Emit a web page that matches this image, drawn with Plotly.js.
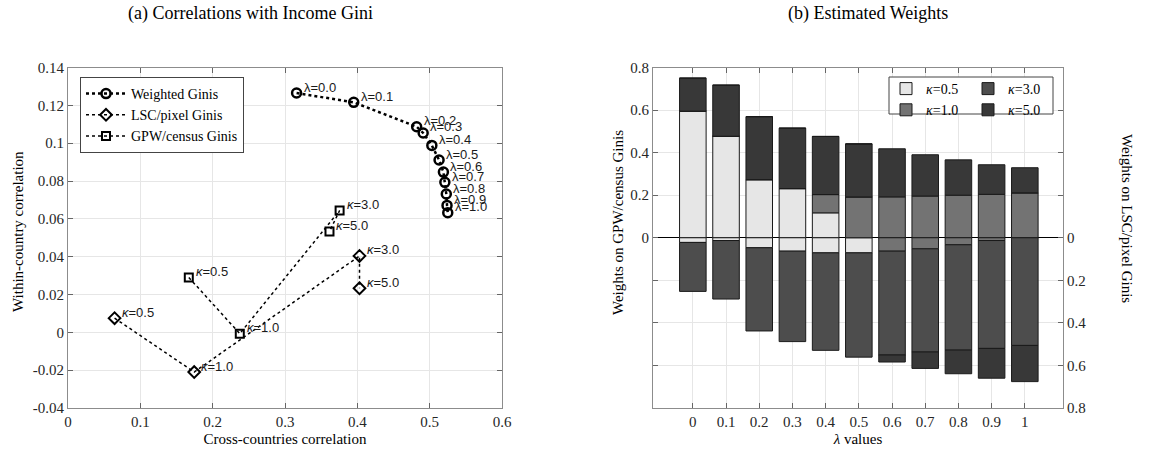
<!DOCTYPE html>
<html>
<head>
<meta charset="utf-8">
<script src="https://cdn.plot.ly/plotly-3.0.1.min.js"></script>
<style>html,body{margin:0;padding:0;background:#fff;}#chart{width:1149px;height:457px;}</style>
</head>
<body>
<div id="chart"></div>
<script>
// ---------- Panel (a) data ----------
const lambdaLabels = ['λ=0.0','λ=0.1','λ=0.2','λ=0.3','λ=0.4','λ=0.5','λ=0.6','λ=0.7','λ=0.8','λ=0.9','λ=1.0'];
const weightedX = [0.316, 0.395, 0.482, 0.491, 0.503, 0.513, 0.519, 0.521, 0.523, 0.524, 0.525];
const weightedY = [0.1265, 0.1216, 0.1087, 0.1054, 0.0988, 0.0911, 0.0847, 0.0793, 0.0731, 0.0671, 0.0632];
const kappaLabels = ['<i>κ</i>=0.5','<i>κ</i>=1.0','<i>κ</i>=3.0','<i>κ</i>=5.0'];
const lscX = [0.0644, 0.1745, 0.403, 0.403];
const lscY = [0.0075, -0.021, 0.0404, 0.0233];
const gpwX = [0.167, 0.2375, 0.3755, 0.3615];
const gpwY = [0.029, -0.0007, 0.0644, 0.0533];
const aXTicks = [0, 0.1, 0.2, 0.3, 0.4, 0.5, 0.6];
const aXTickText = ['0','0.1','0.2','0.3','0.4','0.5','0.6'];
const aYTicks = [-0.04,-0.02,0,0.02,0.04,0.06,0.08,0.1,0.12,0.14];
const aYTickText = ['-0.04','-0.02','0','0.02','0.04','0.06','0.08','0.1','0.12','0.14'];

// ---------- Panel (b) data ----------
const lambdaValues = [0, 0.1, 0.2, 0.3, 0.4, 0.5, 0.6, 0.7, 0.8, 0.9, 1.0];
const lambdaTickText = ['0','0.1','0.2','0.3','0.4','0.5','0.6','0.7','0.8','0.9','1'];
// weights on GPW/census Ginis (upper half)
const gpwK05 = [0.595, 0.477, 0.273, 0.231, 0.117, 0, 0, 0, 0, 0, 0];
const gpwK10 = [0, 0, 0, 0, 0.086, 0.192, 0.192, 0.196, 0.200, 0.204, 0.211];
const gpwK50 = [0.155, 0.240, 0.296, 0.284, 0.273, 0.249, 0.226, 0.194, 0.166, 0.139, 0.118];
// weights on LSC/pixel Ginis (lower half)
const lscK05 = [0.022, 0.013, 0.047, 0.063, 0.071, 0.071, 0, 0, 0, 0, 0];
const lscK10 = [0, 0, 0, 0, 0, 0, 0.063, 0.052, 0.033, 0.013, 0];
const lscK30 = [0.230, 0.275, 0.391, 0.425, 0.458, 0.490, 0.488, 0.485, 0.495, 0.507, 0.506];
const lscK50 = [0, 0, 0, 0, 0, 0, 0.033, 0.077, 0.111, 0.140, 0.170];
const bYTicks = [-0.8,-0.6,-0.4,-0.2,0,0.2,0.4,0.6,0.8];
const bLeftTickText = ['','','','','0','0.2','0.4','0.6','0.8'];
const bRightTickText = ['0.8','0.6','0.4','0.2','0','','','',''];

const serif = "'Liberation Serif', 'Times New Roman', serif";
const sans = "'Liberation Sans', Arial, sans-serif";
const axisCol = '#262626';
const gridCol = '#e6e6e6';

const colK05 = '#e6e6e6', colK10 = '#737373', colK30 = '#4d4d4d', colK50 = '#383838';
const neg = a => a.map(v => -v);

const traces = [
  {x: weightedX, y: weightedY, mode: 'lines+markers', name: 'Weighted Ginis', legend: 'legend',
   line: {color: '#000', width: 2.5, dash: 'dot'},
   marker: {symbol: 'circle-open', size: 9, color: '#000', line: {width: 2.5, color: '#000'}},
   xaxis: 'x', yaxis: 'y', cliponaxis: false},
  {x: lscX, y: lscY, mode: 'lines+markers', name: 'LSC/pixel Ginis', legend: 'legend',
   line: {color: '#000', width: 1.5, dash: 'dot'},
   marker: {symbol: 'diamond-open', size: 9, color: '#000', line: {width: 2, color: '#000'}},
   xaxis: 'x', yaxis: 'y', cliponaxis: false},
  {x: gpwX, y: gpwY, mode: 'lines+markers', name: 'GPW/census Ginis', legend: 'legend',
   line: {color: '#000', width: 1.5, dash: 'dot'},
   marker: {symbol: 'square-open', size: 8, color: '#000', line: {width: 2, color: '#000'}},
   xaxis: 'x', yaxis: 'y', cliponaxis: false}
];

function bar(vals, col, name, show, leg) {
  return {type: 'bar', x: lambdaValues, y: vals, name: name, showlegend: show, legend: leg,
          legendgroup: name,
          marker: {color: col, line: {color: '#1a1a1a', width: 1}},
          xaxis: 'x2', yaxis: 'y2', hoverinfo: 'skip'};
}
traces.push(bar(gpwK05, colK05, '<i>κ</i>=0.5', true, 'legend2'));
traces.push(bar(neg(lscK05), colK05, '<i>κ</i>=0.5', false, 'legend2'));
traces.push(bar(gpwK10, colK10, '<i>κ</i>=1.0', true, 'legend2'));
traces.push(bar(neg(lscK10), colK10, '<i>κ</i>=1.0', false, 'legend2'));
traces.push(bar(neg(lscK30), colK30, '<i>κ</i>=3.0', true, 'legend3'));
traces.push(bar(gpwK50, colK50, '<i>κ</i>=5.0', true, 'legend3'));
traces.push(bar(neg(lscK50), colK50, '<i>κ</i>=5.0', false, 'legend3'));
// helper trace for right axis
traces.push({x: [0], y: [0], xaxis: 'x2', yaxis: 'y3', mode: 'markers', marker: {opacity: 0}, showlegend: false, hoverinfo: 'skip'});

const annotations = [];
const lblFont = {family: sans, size: 13, color: '#1a1a1a'};
lambdaLabels.forEach((t, i) => annotations.push({x: weightedX[i], y: weightedY[i], xref: 'x', yref: 'y', text: t,
  showarrow: false, xanchor: 'left', yanchor: 'middle', xshift: 5, yshift: 6, font: lblFont}));
kappaLabels.forEach((t, i) => annotations.push({x: lscX[i], y: lscY[i], xref: 'x', yref: 'y', text: t,
  showarrow: false, xanchor: 'left', yanchor: 'middle', xshift: 5, yshift: 6, font: lblFont}));
kappaLabels.forEach((t, i) => annotations.push({x: gpwX[i], y: gpwY[i], xref: 'x', yref: 'y', text: t,
  showarrow: false, xanchor: 'left', yanchor: 'middle', xshift: 5, yshift: 6, font: lblFont}));
const P = (px, py) => ({x: px/1149, y: (457-py)/457});
annotations.push(Object.assign({text: '(a) Correlations with Income Gini', xref: 'paper', yref: 'paper',
  showarrow: false, xanchor: 'center', yanchor: 'middle', font: {family: serif, size: 18, color: '#000'}}, P(250, 14)));
annotations.push(Object.assign({text: '(b) Estimated Weights', xref: 'paper', yref: 'paper',
  showarrow: false, xanchor: 'center', yanchor: 'middle', font: {family: serif, size: 18, color: '#000'}}, P(868, 14)));
annotations.push(Object.assign({text: 'Within-country correlation', xref: 'paper', yref: 'paper',
  showarrow: false, textangle: -90, xanchor: 'center', yanchor: 'middle', font: {family: serif, size: 15, color: '#000'}}, P(18, 232)));
annotations.push(Object.assign({text: 'Weights on GPW/census Ginis', xref: 'paper', yref: 'paper',
  showarrow: false, textangle: -90, xanchor: 'center', yanchor: 'middle', font: {family: serif, size: 15, color: '#000'}}, P(618, 223)));
annotations.push(Object.assign({text: 'Weights on LSC/pixel Ginis', xref: 'paper', yref: 'paper',
  showarrow: false, textangle: 90, xanchor: 'center', yanchor: 'middle', font: {family: serif, size: 15, color: '#000'}}, P(1127, 218)));

const shapes = [
  {type: 'rect', xref: 'paper', yref: 'paper', x0: 889/1149, x1: 1053/1149, y0: (457-114)/457, y1: (457-77)/457,
   fillcolor: '#fff', line: {color: '#444', width: 1}, layer: 'above'}
];

const yDom = [(457-408)/457, (457-67.5)/457];
const tickCommon = {ticks: 'inside', ticklen: 5, tickcolor: '#666', showline: true, linecolor: '#8c8c8c', linewidth: 1};
const layout = {
  width: 1149, height: 457, margin: {l: 0, r: 0, t: 0, b: 0},
  paper_bgcolor: '#fff', plot_bgcolor: '#fff',
  barmode: 'relative', bargap: 0.2,
  showlegend: true,
  font: {family: serif, color: axisCol},
  xaxis: Object.assign({domain: [68/1149, 502/1149], range: [0, 0.6], tickvals: aXTicks, ticktext: aXTickText,
    showgrid: true, gridcolor: gridCol, zeroline: false, mirror: 'ticks',
    tickfont: {family: serif, size: 15, color: axisCol},
    title: {text: 'Cross-countries correlation', font: {family: serif, size: 15, color: '#000'}, standoff: 4}, anchor: 'y'}, tickCommon),
  yaxis: Object.assign({domain: yDom, range: [-0.04, 0.14], tickvals: aYTicks, ticktext: aYTickText,
    showgrid: true, gridcolor: gridCol, zeroline: false, mirror: 'ticks',
    tickfont: {family: serif, size: 15, color: axisCol}, anchor: 'x'}, tickCommon),
  xaxis2: Object.assign({domain: [653/1149, 1063/1149], range: [-0.12, 1.115], tickvals: lambdaValues, ticktext: lambdaTickText,
    showgrid: true, gridcolor: gridCol, zeroline: false, mirror: 'ticks',
    tickfont: {family: serif, size: 15, color: axisCol},
    title: {text: '<i>λ</i> values', font: {family: serif, size: 15, color: '#000'}, standoff: 4}, anchor: 'y2'}, tickCommon),
  yaxis2: Object.assign({domain: yDom, range: [-0.8, 0.8], tickvals: bYTicks, ticktext: bLeftTickText,
    showgrid: true, gridcolor: gridCol, zeroline: true, zerolinecolor: '#000', zerolinewidth: 1, mirror: false,
    tickfont: {family: serif, size: 15, color: axisCol}, anchor: 'x2'}, tickCommon),
  yaxis3: Object.assign({domain: yDom, range: [-0.8, 0.8], tickvals: bYTicks, ticktext: bRightTickText, overlaying: 'y2', side: 'right',
    showgrid: false, zeroline: false,
    tickfont: {family: serif, size: 15, color: axisCol}, anchor: 'x2'}, tickCommon),
  legend: {x: 80/1149, y: (457-77)/457, xanchor: 'left', yanchor: 'top', bgcolor: '#fff', bordercolor: '#444', borderwidth: 1,
    font: {family: serif, size: 14, color: '#000'}, tracegroupgap: 0, itemwidth: 40},
  legend2: {x: 886/1149, y: (457-73)/457, xanchor: 'left', yanchor: 'top', bgcolor: 'rgba(0,0,0,0)', borderwidth: 0,
    font: {family: serif, size: 14, color: '#000'}, itemwidth: 30, tracegroupgap: 0, traceorder: 'normal'},
  legend3: {x: 968/1149, y: (457-73)/457, xanchor: 'left', yanchor: 'top', bgcolor: 'rgba(0,0,0,0)', borderwidth: 0,
    font: {family: serif, size: 14, color: '#000'}, itemwidth: 30, tracegroupgap: 0, traceorder: 'normal'},
  shapes: shapes,
  annotations: annotations
};

Plotly.newPlot('chart', traces, layout, {staticPlot: true, displayModeBar: false});
</script>
</body>
</html>
